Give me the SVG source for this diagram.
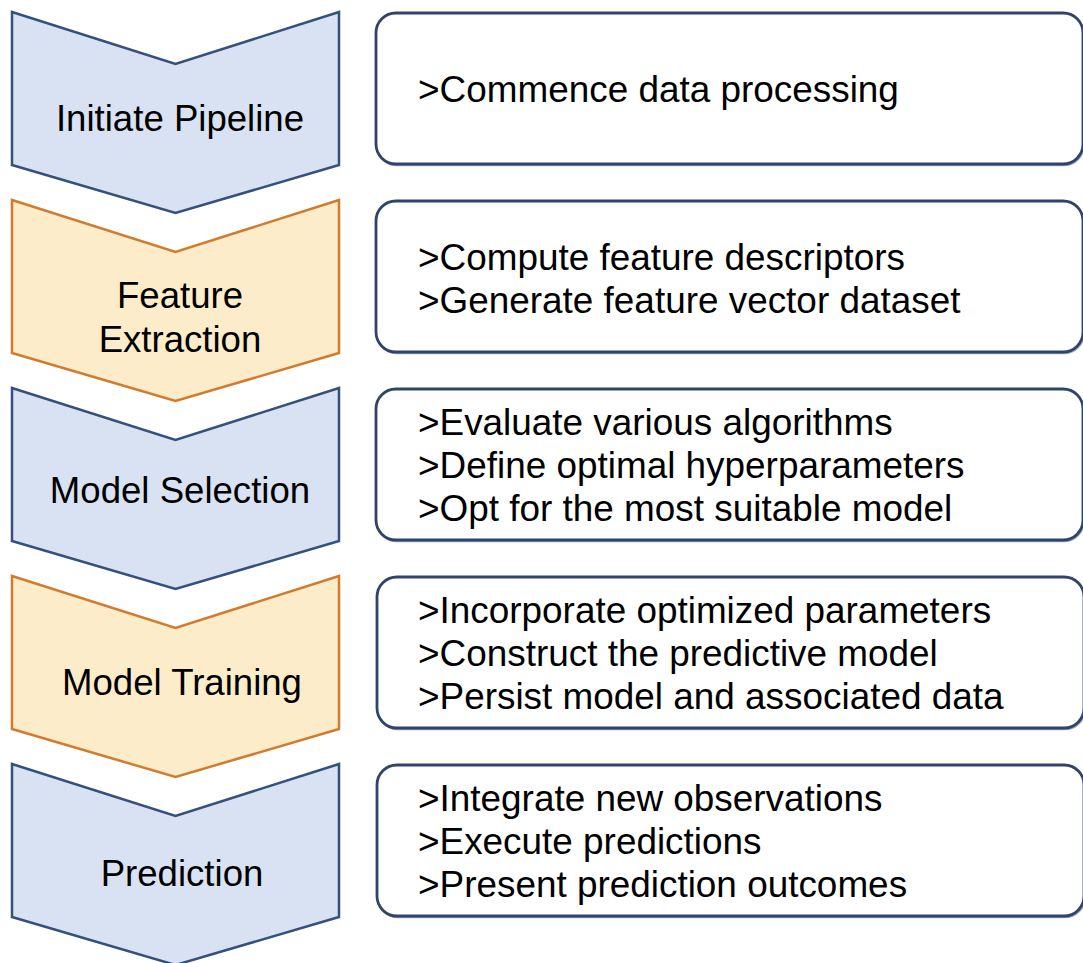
<svg xmlns="http://www.w3.org/2000/svg" width="1083" height="963" viewBox="0 0 1083 963">
<style>
.blue{fill:#d8e2f2;stroke:#34507c;stroke-width:2.5;stroke-linejoin:miter}
.orange{fill:#fdecca;stroke:#d37b2c;stroke-width:2.5;stroke-linejoin:miter}
.box{fill:#ffffff;stroke:#2f4468;stroke-width:2.8}
.boxsh{fill:none;stroke:#9aa9c2;stroke-width:1.5}
.lbl{font-family:"Liberation Sans",Arial,Helvetica,sans-serif;font-size:36.6px;fill:#000;text-anchor:middle}
.txt{font-family:"Liberation Sans",Arial,Helvetica,sans-serif;font-size:36.9px;fill:#000}
</style>
<rect width="1083" height="963" fill="#ffffff"/>
<g id="connectors"></g>
<g id="step1">
<polygon class="blue" points="12,12 175.5,64 339,12 339,165 175.5,213 12,165"/>
<text class="lbl" x="180" y="131">Initiate Pipeline</text>
</g>
<g id="step2">
<polygon class="orange" points="12,200 175.5,252 339,200 339,353 175.5,401 12,353"/>
<text class="lbl" x="180" y="308">Feature</text>
<text class="lbl" x="180" y="352">Extraction</text>
</g>
<g id="step3">
<polygon class="blue" points="12,388 175.5,440 339,388 339,541 175.5,589 12,541"/>
<text class="lbl" x="180" y="503">Model Selection</text>
</g>
<g id="step4">
<polygon class="orange" points="12,576 175.5,628 339,576 339,729 175.5,777 12,729"/>
<text class="lbl" x="182" y="695">Model Training</text>
</g>
<g id="step5">
<polygon class="blue" points="12,764 175.5,816 339,764 339,917 175.5,965 12,917"/>
<text class="lbl" x="182" y="886">Prediction</text>
</g>
<g id="box1">
<rect class="boxsh" x="377" y="14.5" width="707" height="151" rx="20"/>
<rect class="box" x="376" y="13" width="707" height="151" rx="20"/>
<text class="txt" x="418" y="102">&gt;Commence data processing</text>
</g>
<g id="box2">
<rect class="boxsh" x="377" y="202.5" width="707" height="151" rx="20"/>
<rect class="box" x="376" y="201" width="707" height="151" rx="20"/>
<text class="txt" x="418" y="270">&gt;Compute feature descriptors</text>
<text class="txt" x="418" y="313">&gt;Generate feature vector dataset</text>
</g>
<g id="box3">
<rect class="boxsh" x="377" y="390.5" width="707" height="151" rx="20"/>
<rect class="box" x="376" y="389" width="707" height="151" rx="20"/>
<text class="txt" x="418" y="435">&gt;Evaluate various algorithms</text>
<text class="txt" x="418" y="478">&gt;Define optimal hyperparameters</text>
<text class="txt" x="418" y="521">&gt;Opt for the most suitable model</text>
</g>
<g id="box4">
<rect class="boxsh" x="378" y="578.5" width="707" height="151" rx="20"/>
<rect class="box" x="377" y="577" width="707" height="151" rx="20"/>
<text class="txt" x="418" y="623">&gt;Incorporate optimized parameters</text>
<text class="txt" x="418" y="666">&gt;Construct the predictive model</text>
<text class="txt" x="418" y="709">&gt;Persist model and associated data</text>
</g>
<g id="box5">
<rect class="boxsh" x="378" y="766.5" width="707" height="151" rx="20"/>
<rect class="box" x="377" y="765" width="707" height="151" rx="20"/>
<text class="txt" x="418" y="811">&gt;Integrate new observations</text>
<text class="txt" x="418" y="854">&gt;Execute predictions</text>
<text class="txt" x="418" y="897">&gt;Present prediction outcomes</text>
</g>
</svg>
